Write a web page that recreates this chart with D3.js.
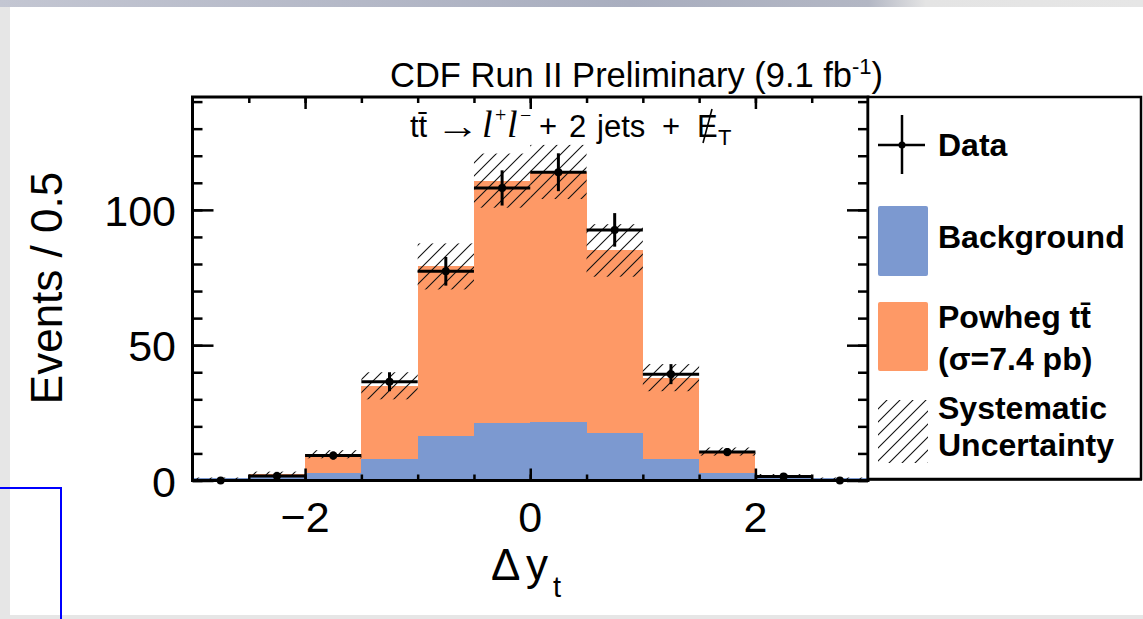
<!DOCTYPE html>
<html>
<head>
<meta charset="utf-8">
<script src="https://cdn.jsdelivr.net/npm/d3@7"></script>
<style>
  html, body { margin: 0; padding: 0; background: #e6e6e6; }
  svg { display: block; }
  text { font-family: "Liberation Sans", Arial, Helvetica, sans-serif; fill: #000; }
</style>
</head>
<body>
<svg id="chart" width="1143" height="619"></svg>
<script>
// Δy_t distribution, bins of width 0.5 from -3 to 3
const binLow       = [-3, -2.5, -2, -1.5, -1, -0.5, 0, 0.5, 1, 1.5, 2, 2.5];
const binWidth     = 0.5;
const background   = [0.8, 1.5, 2.7, 8.0, 16.5, 21.1, 21.7, 17.5, 8.0, 2.7, 1.3, 0.8];
const powheg       = [0.0, 1.0, 7.0, 27.0, 62.6, 89.7, 92.3, 67.5, 30.0, 8.0, 0.5, 0.0];
const systematic   = [0.3, 0.8, 1.5, 5.0, 8.5, 10.0, 10.0, 9.7, 5.0, 1.5, 0.6, 0.3];
const dataValues   = [0, 1.7, 9.2, 36.5, 77.3, 108.1, 113.9, 92.6, 39.3, 10.5, 1.5, 0];
const dataErrors   = [0, 1.5, 1.5, 3.5, 5.3, 6.5, 7.0, 6.2, 3.7, 1.5, 1.2, 0];

const xDomain      = [-3, 3];
const yDomain      = [0, 141.7];
const xMajorTicks  = [-2, 0, 2];
const xMinorTicks  = d3.range(-2.5, 3, 0.5);
const yMajorTicks  = [0, 50, 100];
const yMinorTicks  = d3.range(0, 141, 10);

const titleText    = "CDF Run II Preliminary (9.1 fb";
const yLabelText   = "Events / 0.5";
const legendLabels = ["Data", "Background", "Powheg tt\u0304", "(\u03c3=7.4 pb)", "Systematic", "Uncertainty"];

const colorBkg = "#7c99d0";
const colorSig = "#fe9966";

const svg = d3.select("#chart");

// page backdrop
const defs = svg.append("defs");
const grad = defs.append("linearGradient").attr("id", "topbar").attr("x1", 0).attr("x2", 1).attr("y1", 0).attr("y2", 0);
[["0%", "#c3c6d2"], ["55%", "#a9aebf"], ["76%", "#b3b7c4"], ["81%", "#e4e4e4"], ["100%", "#e6e6e6"]]
  .forEach(([o, c]) => grad.append("stop").attr("offset", o).attr("stop-color", c));
svg.append("rect").attr("x", 0).attr("y", 0).attr("width", 1143).attr("height", 619).attr("fill", "#e6e6e6");
svg.append("rect").attr("x", 0).attr("y", 0).attr("width", 1143).attr("height", 7).attr("fill", "url(#topbar)");
svg.append("rect").attr("x", 10).attr("y", 7).attr("width", 1133).attr("height", 608).attr("fill", "#fff");

// hatch pattern for the systematic band
const hs = 13;
defs.append("pattern").attr("id", "hatch").attr("patternUnits", "userSpaceOnUse")
  .attr("width", hs).attr("height", hs)
  .append("path")
  .attr("d", `M0,${hs} L${hs},0 M-3,3 L3,-3 M${hs - 3},${hs + 3} L${hs + 3},${hs - 3}`)
  .attr("stroke", "#111").attr("stroke-width", 1.1);

// scales
const x = d3.scaleLinear().domain(xDomain).range([192.5, 868]);
const y = d3.scaleLinear().domain(yDomain).range([480.5, 97]);

const bins = binLow.map((lo, i) => ({
  lo, hi: lo + binWidth, mid: lo + binWidth / 2,
  bkg: background[i], sig: powheg[i], tot: background[i] + powheg[i],
  syst: systematic[i], data: dataValues[i], err: dataErrors[i]
}));

const plot = svg.append("g");

// stacked histogram: background then Powheg ttbar
plot.selectAll("rect.bkg").data(bins).join("rect").attr("class", "bkg")
  .attr("x", d => x(d.lo)).attr("width", d => x(d.hi) - x(d.lo))
  .attr("y", d => y(d.bkg)).attr("height", d => y(0) - y(d.bkg))
  .attr("fill", colorBkg).attr("shape-rendering", "crispEdges");
plot.selectAll("rect.sig").data(bins.filter(d => d.sig > 0)).join("rect").attr("class", "sig")
  .attr("x", d => x(d.lo)).attr("width", d => x(d.hi) - x(d.lo))
  .attr("y", d => y(d.tot)).attr("height", d => y(d.bkg) - y(d.tot))
  .attr("fill", colorSig).attr("shape-rendering", "crispEdges");

// systematic uncertainty band
plot.selectAll("rect.syst").data(bins).join("rect").attr("class", "syst")
  .attr("x", d => x(d.lo)).attr("width", d => x(d.hi) - x(d.lo))
  .attr("y", d => y(d.tot + d.syst)).attr("height", d => y(Math.max(0, d.tot - d.syst)) - y(d.tot + d.syst))
  .attr("fill", "url(#hatch)");

// data points with error bars
const pts = plot.append("g").attr("stroke", "#000").attr("stroke-width", 3);
pts.selectAll("line.h").data(bins).join("line").attr("class", "h")
  .attr("x1", d => x(d.lo)).attr("x2", d => x(d.hi))
  .attr("y1", d => y(d.data)).attr("y2", d => y(d.data));
pts.selectAll("line.v").data(bins.filter(d => d.err > 0)).join("line").attr("class", "v")
  .attr("x1", d => x(d.mid)).attr("x2", d => x(d.mid))
  .attr("y1", d => y(d.data - d.err)).attr("y2", d => y(d.data + d.err));
plot.selectAll("circle.pt").data(bins).join("circle").attr("class", "pt")
  .attr("cx", d => x(d.mid)).attr("cy", d => y(d.data)).attr("r", 4).attr("fill", "#000");

// axes with ticks pointing into the frame
function styleAxis(g) {
  g.select(".domain").remove();
  g.selectAll(".tick line").attr("stroke", "#000").attr("stroke-width", 2.5);
  g.selectAll("text").remove();
}
const [x0, x1] = x.range(), [y0, y1] = y.range();
svg.append("g").attr("transform", `translate(${x0},0)`).call(d3.axisLeft(y).tickValues(yMinorTicks).tickSize(-10)).call(styleAxis);
svg.append("g").attr("transform", `translate(${x0},0)`).call(d3.axisLeft(y).tickValues(yMajorTicks).tickSize(-21)).call(styleAxis);
svg.append("g").attr("transform", `translate(${x1},0)`).call(d3.axisRight(y).tickValues(yMinorTicks).tickSize(-10)).call(styleAxis);
svg.append("g").attr("transform", `translate(${x1},0)`).call(d3.axisRight(y).tickValues(yMajorTicks).tickSize(-21)).call(styleAxis);
svg.append("g").attr("transform", `translate(0,${y0})`).call(d3.axisBottom(x).tickValues(xMinorTicks).tickSize(-6)).call(styleAxis);
svg.append("g").attr("transform", `translate(0,${y0})`).call(d3.axisBottom(x).tickValues(xMajorTicks).tickSize(-12)).call(styleAxis);
svg.append("g").attr("transform", `translate(0,${y1})`).call(d3.axisTop(x).tickValues(xMinorTicks).tickSize(-6)).call(styleAxis);
svg.append("g").attr("transform", `translate(0,${y1})`).call(d3.axisTop(x).tickValues(xMajorTicks).tickSize(-12)).call(styleAxis);

// frame
svg.append("rect").attr("x", x0).attr("y", y1).attr("width", x1 - x0).attr("height", y0 - y1)
  .attr("fill", "none").attr("stroke", "#000").attr("stroke-width", 3);

// tick labels
const fmt = d3.format("");
svg.selectAll("text.xt").data(xMajorTicks).join("text").attr("class", "xt")
  .attr("x", d => x(d)).attr("y", 532).attr("text-anchor", "middle")
  .attr("font-size", 43).text(d => fmt(d));
svg.selectAll("text.yt").data(yMajorTicks).join("text").attr("class", "yt")
  .attr("x", 176).attr("y", d => y(d) + 16).attr("text-anchor", "end")
  .attr("font-size", 43).text(d => fmt(d));

// axis titles
svg.append("text").attr("transform", "translate(62,288) rotate(-90)")
  .attr("text-anchor", "middle").attr("font-size", 44).text(yLabelText);
const xl = svg.append("text").attr("y", 580).attr("font-size", 44);
xl.append("tspan").attr("x", 491).text("\u0394");
xl.append("tspan").attr("x", 526).text("y");
xl.append("tspan").attr("x", 553).attr("dy", 17).attr("font-size", 29).text("t");

// title
const tt = svg.append("text").attr("x", 390).attr("y", 87).attr("font-size", 34.5);
tt.append("tspan").text(titleText);
tt.append("tspan").attr("dy", -13).attr("font-size", 22).text("-1");
tt.append("tspan").attr("dy", 13).attr("font-size", 34.5).text(")");

// process label
const sub = svg.append("g");
sub.append("text").attr("x", 410).attr("y", 137).attr("font-size", 31).text("tt\u0304");
sub.append("text").attr("transform", "translate(436,138) scale(1.22,1)").attr("font-size", 36)
  .style("font-family", "'Liberation Serif', serif").text("\u2192");
const ll = sub.append("text").attr("y", 137).attr("font-size", 38)
  .style("font-family", "'Liberation Serif', 'Times New Roman', serif").style("font-style", "italic");
ll.append("tspan").attr("x", 482).text("l");
ll.append("tspan").attr("x", 495).attr("dy", -15).attr("font-size", 20).style("font-style", "normal").text("+");
ll.append("tspan").attr("x", 507).attr("dy", 15).text("l");
ll.append("tspan").attr("x", 520).attr("dy", -15).attr("font-size", 20).style("font-style", "normal").text("\u2212");
const jets = sub.append("text").attr("y", 137).attr("font-size", 31);
jets.append("tspan").attr("x", 539).text("+");
jets.append("tspan").attr("x", 569).text("2");
jets.append("tspan").attr("x", 597).text("jets");
jets.append("tspan").attr("x", 662).text("+");
const met = sub.append("text").attr("y", 137).attr("font-size", 31);
met.append("tspan").attr("x", 697).text("E");
met.append("tspan").attr("x", 718).attr("dy", 8).attr("font-size", 22).text("T");
sub.append("line").attr("x1", 703).attr("y1", 143).attr("x2", 712).attr("y2", 109)
  .attr("stroke", "#000").attr("stroke-width", 1.6);

// legend
const lg = svg.append("g");
lg.append("rect").attr("x", 868).attr("y", 97).attr("width", 273).attr("height", 382)
  .attr("fill", "#fff").attr("stroke", "#000").attr("stroke-width", 2.5);
lg.append("line").attr("x1", 868).attr("x2", 1142).attr("y1", 480).attr("y2", 480).attr("stroke", "#000").attr("stroke-width", 1.5);
lg.append("line").attr("x1", 878).attr("x2", 925).attr("y1", 145).attr("y2", 145).attr("stroke", "#000").attr("stroke-width", 2.5);
lg.append("line").attr("x1", 902).attr("x2", 902).attr("y1", 115).attr("y2", 174).attr("stroke", "#000").attr("stroke-width", 2.5);
lg.append("circle").attr("cx", 902).attr("cy", 145).attr("r", 3.5).attr("fill", "#000");
lg.append("rect").attr("x", 878).attr("y", 206).attr("width", 50).attr("height", 70).attr("rx", 2).attr("fill", colorBkg);
lg.append("rect").attr("x", 878).attr("y", 302).attr("width", 50).attr("height", 69).attr("rx", 2).attr("fill", colorSig);
lg.append("rect").attr("x", 878).attr("y", 400).attr("width", 50).attr("height", 63).attr("fill", "url(#hatch)");
const legendY = [156, 248, 328, 370, 419, 456];
lg.selectAll("text.lg").data(legendLabels).join("text").attr("class", "lg")
  .attr("x", 938).attr("y", (d, i) => legendY[i])
  .attr("font-size", 32).attr("font-weight", "bold").text(d => d);

// stray selection box in the lower left corner
svg.append("rect").attr("x", -10).attr("y", 488).attr("width", 71).attr("height", 200)
  .attr("fill", "none").attr("stroke", "#0000ff").attr("stroke-width", 2);
</script>
</body>
</html>
